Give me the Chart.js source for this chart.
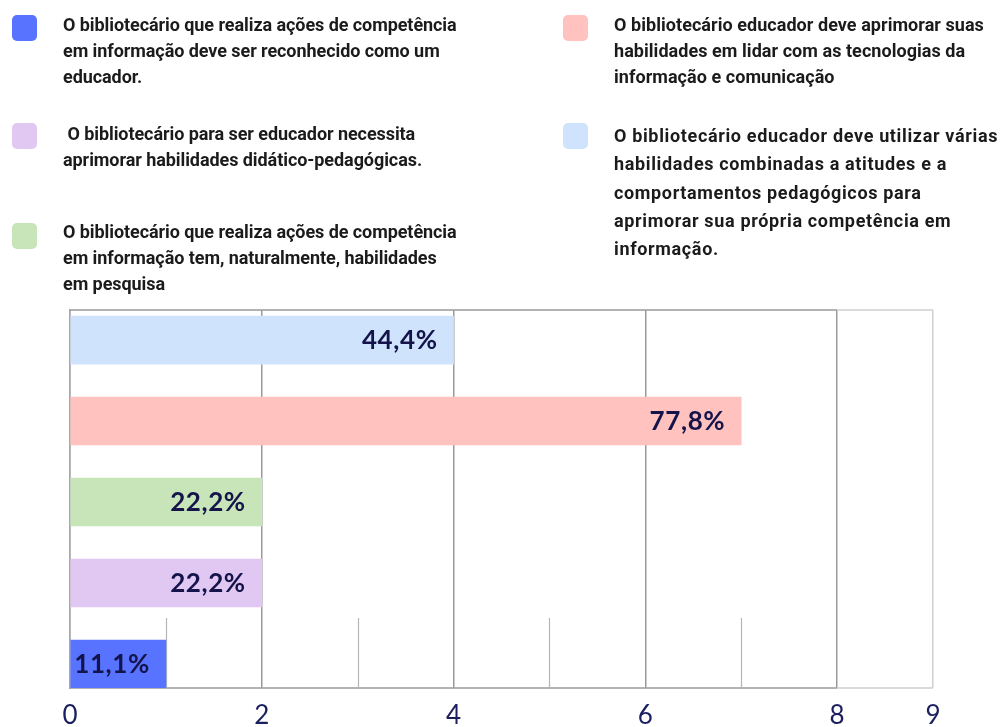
<!DOCTYPE html>
<html>
<head>
<meta charset="utf-8">
<script src="https://cdn.jsdelivr.net/npm/chart.js@4.4.1/dist/chart.umd.min.js"></script>
<style>
  html, body { margin: 0; padding: 0; background: #ffffff; }
  #wrap { position: relative; width: 1002px; height: 727px; overflow: hidden; }
  #chart { position: absolute; left: 0; top: 0; }
  .sw { position: absolute; width: 25px; height: 26px; border-radius: 5px; }
  .txt { position: absolute; font-family: Roboto, sans-serif; font-weight: 700; font-size: 18px;
         color: #1b1b1b; white-space: pre; }
</style>
</head>
<body>
<div id="wrap">
  <canvas id="chart" width="1002" height="727"></canvas>
</div>
<script>
// ---- data ----
const categories = [
  ["O bibliotecário que realiza ações de competência", "em informação deve ser reconhecido como um", "educador."],
  [" O bibliotecário para ser educador necessita", "aprimorar habilidades didático-pedagógicas."],
  ["O bibliotecário que realiza ações de competência", "em informação tem, naturalmente, habilidades", "em pesquisa"],
  ["O bibliotecário educador deve aprimorar suas", "habilidades em lidar com as tecnologias da", "informação e comunicação"],
  ["O bibliotecário educador deve utilizar várias", "habilidades combinadas a atitudes e a", "comportamentos pedagógicos para", "aprimorar sua própria competência em", "informação."]
];
const counts = [1, 2, 2, 7, 4];
const percentLabels = ["11,1%", "22,2%", "22,2%", "77,8%", "44,4%"];
const barColors = ["#5773ff", "#e1c8f3", "#c7e5b9", "#ffc2bf", "#d0e3fc"];
const xTicks = [0, 2, 4, 6, 8, 9];
const minorTicks = [1, 3, 5, 7];

// ---- legend (HTML) ----
const legendLayout = [
  { sx: 12, sy: 15, tx: 63, ty: 12, lh: 26, ls: -0.07 },
  { sx: 12, sy: 123, tx: 63, ty: 121, lh: 26, ls: -0.07 },
  { sx: 12, sy: 223, tx: 63, ty: 219, lh: 26, ls: -0.07 },
  { sx: 563, sy: 15, tx: 614, ty: 12, lh: 26, ls: 0.05 },
  { sx: 563, sy: 123, tx: 614, ty: 122, lh: 28.3, ls: 0.65 }
];
const wrap = document.getElementById('wrap');
categories.forEach((lines, i) => {
  const L = legendLayout[i];
  const sw = document.createElement('div');
  sw.className = 'sw';
  sw.style.left = L.sx + 'px'; sw.style.top = L.sy + 'px';
  sw.style.background = barColors[i];
  wrap.appendChild(sw);
  const t = document.createElement('div');
  t.className = 'txt';
  t.style.left = L.tx + 'px'; t.style.top = L.ty + 'px';
  t.style.lineHeight = L.lh + 'px';
  t.style.letterSpacing = L.ls + 'px';
  t.textContent = lines.join('\n');
  wrap.appendChild(t);
});

// ---- plugins ----
const frameAndMinor = {
  id: 'frameAndMinor',
  beforeDatasetsDraw(chart) {
    const { ctx, chartArea: a, scales: { x } } = chart;
    const p8 = x.getPixelForValue(8);
    ctx.save();
    ctx.lineWidth = 1.5;
    ctx.strokeStyle = '#9a9a9a';
    ctx.beginPath();
    ctx.moveTo(a.left, a.top); ctx.lineTo(p8, a.top);
    ctx.moveTo(a.left, a.bottom); ctx.lineTo(p8, a.bottom);
    ctx.stroke();
    ctx.strokeStyle = '#cfcfcf';
    ctx.beginPath();
    ctx.moveTo(p8, a.top); ctx.lineTo(a.right, a.top);
    ctx.moveTo(p8, a.bottom); ctx.lineTo(a.right, a.bottom);
    ctx.stroke();
    ctx.strokeStyle = '#b5b5b5';
    ctx.lineWidth = 1.2;
    minorTicks.forEach(v => {
      const px = Math.round(x.getPixelForValue(v)) + 0.5;
      ctx.beginPath();
      ctx.moveTo(px, a.bottom - 70); ctx.lineTo(px, a.bottom);
      ctx.stroke();
    });
    ctx.restore();
  }
};
const valueLabels = {
  id: 'valueLabels',
  afterDatasetsDraw(chart) {
    const { ctx } = chart;
    const meta = chart.getDatasetMeta(0);
    ctx.save();
    ctx.font = 'bold 26px Lato, sans-serif';
    if ('letterSpacing' in ctx) ctx.letterSpacing = '0.6px';
    ctx.fillStyle = '#14144a';
    ctx.textAlign = 'right';
    ctx.textBaseline = 'middle';
    meta.data.forEach((bar, i) => {
      ctx.fillText(percentLabels[i], bar.x - 16, bar.y + 1);
    });
    ctx.restore();
  }
};

new Chart(document.getElementById('chart'), {
  type: 'bar',
  data: {
    labels: categories,
    datasets: [{
      data: counts,
      backgroundColor: barColors,
      borderWidth: 0,
      barThickness: 48
    }]
  },
  options: {
    indexAxis: 'y',
    responsive: false,
    animation: false,
    layout: { padding: { left: 70, right: 69, top: 310, bottom: 0 } },
    plugins: { legend: { display: false }, tooltip: { enabled: false } },
    scales: {
      x: {
        type: 'linear',
        min: 0, max: 9,
        afterBuildTicks: s => { s.ticks = xTicks.map(v => ({ value: v })); },
        afterFit: s => { s.height = 39; },
        grid: {
          drawTicks: false,
          lineWidth: 1.5,
          color: c => (c.tick && c.tick.value === 9) ? '#cfcfcf' : '#9a9a9a'
        },
        border: { display: false },
        ticks: {
          padding: 12,
          color: '#1a1f5e',
          font: { family: 'Lato, sans-serif', size: 26 },
          maxRotation: 0,
          autoSkip: false
        }
      },
      y: {
        type: 'category',
        reverse: true,
        // bars sit closer to the frame than the default half-band offset
        afterBuildTicks: s => {
          if (typeof s._startValue === 'number') {
            s._startValue = -0.296;
            s._valueRange = 4.667;
          }
        },
        grid: { display: false, drawTicks: false },
        border: { display: true, color: '#a8a8a8', width: 1.5 },
        ticks: { display: false }
      }
    }
  },
  plugins: [frameAndMinor, valueLabels]
});
</script>
</body>
</html>
